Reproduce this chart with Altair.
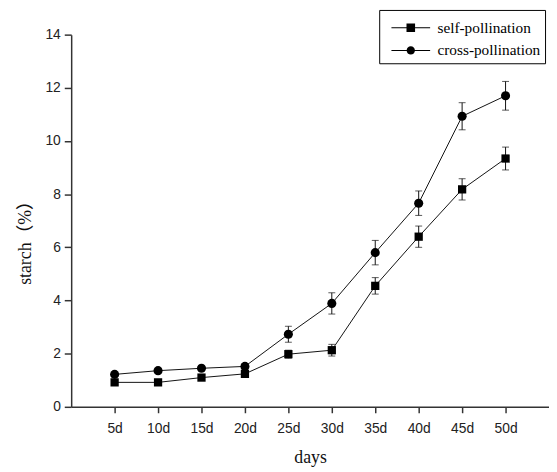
import altair as alt
import pandas as pd

days = ["5d", "10d", "15d", "20d", "25d", "30d", "35d", "40d", "45d", "50d"]
series_names = ["self-pollination", "cross-pollination"]
self_mean = [0.92, 0.92, 1.10, 1.24, 1.98, 2.13, 4.55, 6.40, 8.18, 9.34]
self_err = [0.08, 0.08, 0.08, 0.10, 0.15, 0.22, 0.31, 0.40, 0.40, 0.43]
cross_mean = [1.22, 1.36, 1.45, 1.52, 2.73, 3.89, 5.80, 7.66, 10.93, 11.70]
cross_err = [0.08, 0.08, 0.08, 0.08, 0.30, 0.40, 0.46, 0.46, 0.51, 0.54]
y_ticks = [0, 2, 4, 6, 8, 10, 12, 14]

rows = []
for name, means, errs in [(series_names[0], self_mean, self_err),
                          (series_names[1], cross_mean, cross_err)]:
    for d, m, e in zip(days, means, errs):
        rows.append({"day": d, "series": name, "mean": m, "lo": m - e, "hi": m + e})
df = pd.DataFrame(rows)

SERIF = "Liberation Serif, Times New Roman, Noto Sans CJK SC"
SANS = "Liberation Sans, Arial"

x_enc = alt.X("day:N", sort=days,
              scale=alt.Scale(type="point", padding=1),
              axis=alt.Axis(title="days", labelAngle=0, labelFont=SANS, labelFontSize=14,
                            labelColor="#222", labelPadding=9, tickSize=6,
                            titleFont=SERIF, titleFontSize=18, titleFontWeight="normal",
                            titleColor="#111", titlePadding=13))
y_scale = alt.Scale(domain=[0, 14], nice=False, zero=True)
y_enc = alt.Y("mean:Q", scale=y_scale,
              axis=alt.Axis(title="starch（%）", values=y_ticks, grid=False,
                            labelFont=SANS, labelFontSize=14, labelColor="#222",
                            labelPadding=4, tickSize=7,
                            titleFont=SERIF, titleFontSize=18, titleFontWeight="normal",
                            titleColor="#111", titlePadding=11, titleY=206))

base = alt.Chart(df)

lines = base.mark_line(color="#111", strokeWidth=1).encode(
    x=x_enc, y=y_enc, detail="series:N")

err_rule = base.mark_rule(color="#111", strokeWidth=1).encode(
    x=alt.X("day:N", sort=days), y=alt.Y("lo:Q", scale=y_scale), y2="hi:Q")
cap_lo = base.mark_tick(color="#111", thickness=1, size=7, orient="horizontal").encode(
    x=alt.X("day:N", sort=days), y=alt.Y("lo:Q", scale=y_scale))
cap_hi = base.mark_tick(color="#111", thickness=1, size=7, orient="horizontal").encode(
    x=alt.X("day:N", sort=days), y=alt.Y("hi:Q", scale=y_scale))

pts = base.mark_point(filled=True, color="#000", opacity=1).encode(
    x=alt.X("day:N", sort=days), y=alt.Y("mean:Q", scale=y_scale),
    shape=alt.Shape("series:N", scale=alt.Scale(domain=series_names, range=["square", "circle"]),
                    legend=None),
    size=alt.Size("series:N", scale=alt.Scale(domain=series_names, range=[70, 85]), legend=None))

sq_path = "M-2.8,-0.07H2.8V0.07H-2.8ZM-0.62,-0.62H0.62V0.62H-0.62Z"
ci_path = "M-2.8,-0.07H2.8V0.07H-2.8ZM0.6,0A0.6,0.6 0 1,1 -0.6,0A0.6,0.6 0 1,1 0.6,0Z"
legend_layer = base.mark_point(filled=True, color="#000", opacity=0).encode(
    x=alt.X("day:N", sort=days), y=alt.Y("mean:Q", scale=y_scale),
    shape=alt.Shape("series:N", scale=alt.Scale(domain=series_names, range=[sq_path, ci_path]),
                    legend=alt.Legend(title=" ", titleFontSize=6, titlePadding=0,
                                      orient="none", legendX=312, legendY=-25,
                                      labelFont=SERIF, labelFontSize=15.5, labelColor="#000",
                                      symbolSize=196, symbolOpacity=1,
                                      symbolFillColor="#000",
                                      symbolOffset=20, labelOffset=19, padding=4, rowPadding=6,
                                      strokeColor="#000", fillColor="#fff",
                                      cornerRadius=0)))

chart = alt.layer(lines, err_rule, cap_lo, cap_hi, pts, legend_layer).resolve_scale(
    shape="independent"
).resolve_legend(shape="independent").properties(
    width=484, height=377,
    autosize=alt.AutoSizeParams(type="none"),
    padding={"left": 64, "top": 24, "right": 0, "bottom": 60},
).configure_view(stroke=None).configure_axis(
    domainColor="#333", domainWidth=1.5, tickColor="#333", tickWidth=1.5
)

chart.save("out.html", embed_options={"renderer": "svg", "actions": False})
